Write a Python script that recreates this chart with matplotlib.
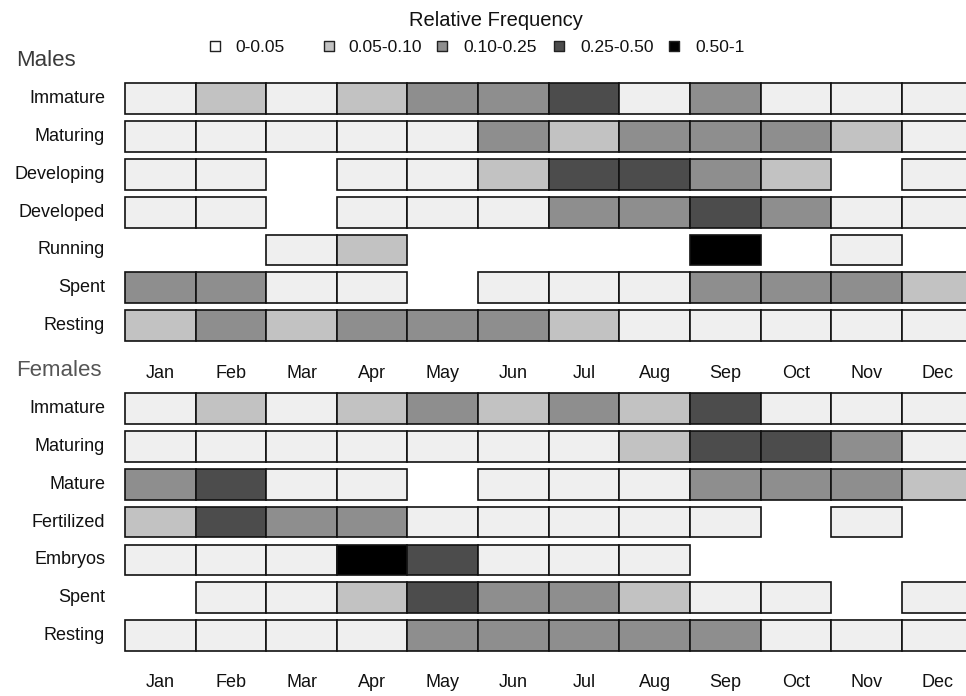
import matplotlib
matplotlib.use("Agg")
import matplotlib.pyplot as plt

plt.rcParams['font.family'] = ['Liberation Sans', 'DejaVu Sans']

months = ["Jan", "Feb", "Mar", "Apr", "May", "Jun", "Jul", "Aug", "Sep", "Oct", "Nov", "Dec"]
class_labels = ["0-0.05", "0.05-0.10", "0.10-0.25", "0.25-0.50", "0.50-1"]
class_colors = ["#efefef", "#c2c2c2", "#8e8e8e", "#4c4c4c", "#000000"]

# frequency class per month (0..4), None = no data
male_stages = ["Immature", "Maturing", "Developing", "Developed", "Running", "Spent", "Resting"]
m_immature   = [0, 1, 0, 1, 2, 2, 3, 0, 2, 0, 0, 0]
m_maturing   = [0, 0, 0, 0, 0, 2, 1, 2, 2, 2, 1, 0]
m_developing = [0, 0, None, 0, 0, 1, 3, 3, 2, 1, None, 0]
m_developed  = [0, 0, None, 0, 0, 0, 2, 2, 3, 2, 0, 0]
m_running    = [None, None, 0, 1, None, None, None, None, 4, None, 0, None]
m_spent      = [2, 2, 0, 0, None, 0, 0, 0, 2, 2, 2, 1]
m_resting    = [1, 2, 1, 2, 2, 2, 1, 0, 0, 0, 0, 0]

female_stages = ["Immature", "Maturing", "Mature", "Fertilized", "Embryos", "Spent", "Resting"]
f_immature   = [0, 1, 0, 1, 2, 1, 2, 1, 3, 0, 0, 0]
f_maturing   = [0, 0, 0, 0, 0, 0, 0, 1, 3, 3, 2, 0]
f_mature     = [2, 3, 0, 0, None, 0, 0, 0, 2, 2, 2, 1]
f_fertilized = [1, 3, 2, 2, 0, 0, 0, 0, 0, None, 0, None]
f_embryos    = [0, 0, 0, 4, 3, 0, 0, 0, None, None, None, None]
f_spent      = [None, 0, 0, 1, 3, 2, 2, 1, 0, 0, None, 0]
f_resting    = [0, 0, 0, 0, 2, 2, 2, 2, 2, 0, 0, 0]

male_rows = [m_immature, m_maturing, m_developing, m_developed, m_running, m_spent, m_resting]
female_rows = [f_immature, f_maturing, f_mature, f_fertilized, f_embryos, f_spent, f_resting]

fig = plt.figure(figsize=(9.66, 6.96), dpi=100)
ax = fig.add_axes([0, 0, 1, 1])
ax.set_xlim(-1.77, 11.91)
ax.set_ylim(15.80, -2.614)
ax.axis("off")

female_offset = 8.2
row_h = 0.81


def draw_block(stages, rows, y0):
    for i, (name, vals) in enumerate(zip(stages, rows)):
        y = y0 + i
        xs = [k for k, v in enumerate(vals) if v is not None]
        cols = [class_colors[vals[k]] for k in xs]
        ax.barh([y] * len(xs), [1] * len(xs), left=xs, height=row_h,
                color=cols, edgecolor="#111111", linewidth=1.2, align="center")
        ax.text(-0.28, y, name, ha="right", va="center", fontsize=13, color="#111111")


draw_block(male_stages, male_rows, 0)
draw_block(female_stages, female_rows, female_offset)

for k, m in enumerate(months):
    ax.text(k + 0.5, 7.26, m, ha="center", va="center", fontsize=13, color="#111111")
    ax.text(k + 0.5, 15.44, m, ha="center", va="center", fontsize=13, color="#111111")

ax.text(-1.545, -1.02, "Males", ha="left", va="center", fontsize=16, color="#3a3a3a")
ax.text(-1.545, 7.2, "Females", ha="left", va="center", fontsize=16, color="#555555")

# title and legend (figure pixel coordinates -> data via transforms)
def px(xp, yp):
    return ((xp - 125) / 70.6, (yp - 98.8) / 37.8)

tx, ty = px(496, 20)
ax.text(tx, ty, "Relative Frequency", ha="center", va="center", fontsize=14.5, color="#111111")

leg_sq = [215, 329, 442, 559, 674]
leg_tx = [235, 348, 463, 580, 695]
for c, (sx, lx) in enumerate(zip(leg_sq, leg_tx)):
    mx, my = px(sx, 46)
    ax.scatter([mx], [my], marker="s", s=55, facecolor=class_colors[c] if c > 0 else "white",
               edgecolor="#222222", linewidth=1.0, clip_on=False)
    lxx, lyy = px(lx, 47)
    ax.text(lxx, lyy, class_labels[c], ha="left", va="center", fontsize=12.5, color="#111111")

fig.savefig("out.png", dpi=100)
